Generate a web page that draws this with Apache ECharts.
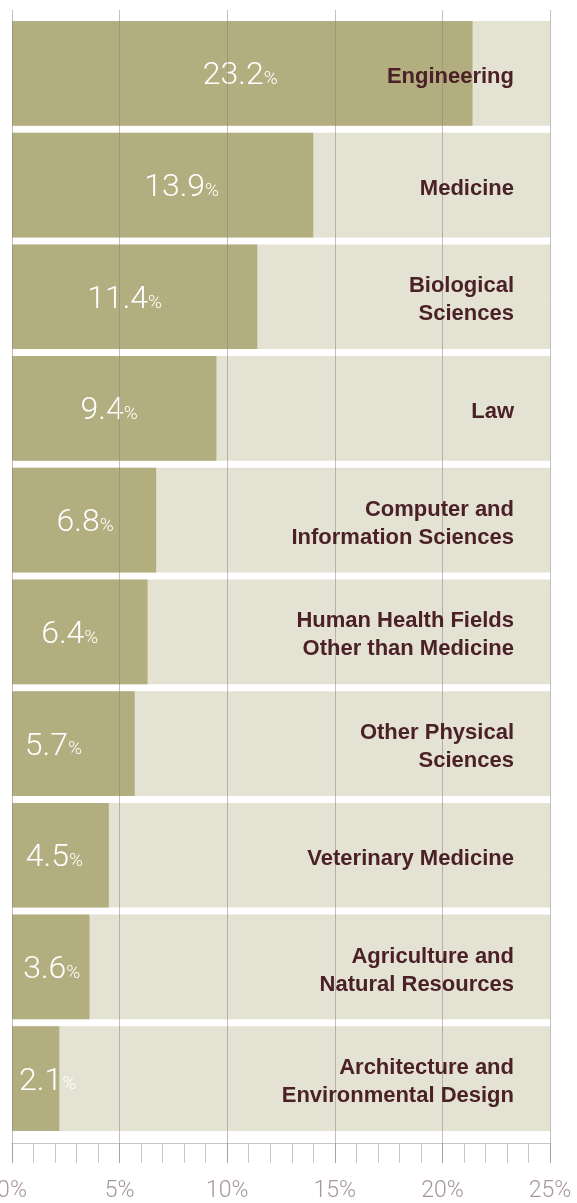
<!DOCTYPE html>
<html>
<head>
<meta charset="utf-8">
<script src="https://cdn.jsdelivr.net/npm/echarts@6/dist/echarts.min.js"></script>
<style>
  html, body { margin: 0; padding: 0; background: #fff; }
  #chart { width: 577px; height: 1203px; }
</style>
</head>
<body>
<div id="chart"></div>
<script>
// fields, top to bottom
var fields = [
    'Engineering',
    'Medicine',
    'Biological\nSciences',
    'Law',
    'Computer and\nInformation Sciences',
    'Human Health Fields\nOther than Medicine',
    'Other Physical\nSciences',
    'Veterinary Medicine',
    'Agriculture and\nNatural Resources',
    'Architecture and\nEnvironmental Design'
];
// printed shares
var shares = [23.2, 13.9, 11.4, 9.4, 6.8, 6.4, 5.7, 4.5, 3.6, 2.1];
// bar lengths as drawn (engineering bar is drawn shorter than its label)
var barLengths = [21.4, 14.0, 11.4, 9.5, 6.7, 6.3, 5.7, 4.5, 3.6, 2.2];
var axisTicks = [0, 5, 10, 15, 20, 25];

// the value labels are not exactly centred in the original, small horizontal nudges (px)
var labelNudge = [-2, 19, -10, -5, 1, -10, -20, -6, 1, 12];

var font = '"Liberation Sans", Arial, Helvetica, sans-serif';
var chart = echarts.init(document.getElementById('chart'));

var barData = barLengths.map(function (v, i) {
    return {value: v, label: {offset: [labelNudge[i], 3]}};
});

var nameStyle = {fontFamily: font, fontSize: 22, fontWeight: 'bold', lineHeight: 28, color: '#4b2127'};

var option = {
    backgroundColor: '#ffffff',
    animation: false,
    grid: [
        {left: 12, right: 27, top: 17.5, bottom: 68.5, containLabel: false, outerBoundsMode: 'none'},
        // only for the vertical lines that run over the bars
        {left: 12, right: 27, top: 10, bottom: 40, containLabel: false, outerBoundsMode: 'none'}
    ],
    xAxis: [{
        gridIndex: 0,
        type: 'value',
        min: axisTicks[0],
        max: axisTicks[axisTicks.length - 1],
        interval: 5,
        offset: 8.5,
        axisLine: {show: true, onZero: false, lineStyle: {color: '#cdc3c3', width: 1}},
        axisTick: {show: true, length: 20, lineStyle: {color: '#cdc3c3'}},
        minorTick: {show: true, splitNumber: 5, length: 20, lineStyle: {color: '#cdc3c3'}},
        splitLine: {show: false},
        axisLabel: {
            margin: 37,
            fontFamily: 'Roboto, ' + font,
            fontWeight: 300,
            fontSize: 23,
            color: '#a69797',
            formatter: '{value}%'
        }
    }, {
        gridIndex: 1,
        type: 'value',
        min: axisTicks[0],
        max: axisTicks[axisTicks.length - 1],
        interval: 5,
        z: 4,
        axisLine: {show: false},
        axisTick: {show: false},
        axisLabel: {show: false},
        splitLine: {show: true, lineStyle: {color: 'rgba(140,125,125,0.5)', width: 1}}
    }],
    yAxis: [{
        gridIndex: 0,
        type: 'category',
        inverse: true,
        data: fields,
        show: false
    }, {
        gridIndex: 0,
        type: 'category',
        inverse: true,
        position: 'right',
        data: fields,
        z: 5,
        axisLine: {show: false},
        axisTick: {show: false},
        axisLabel: {
            inside: true,
            margin: 36,
            fontFamily: font,
            fontSize: 22,
            fontWeight: 'bold',
            lineHeight: 28,
            color: '#4b2127',
            // pad every line a bit so the block sits slightly low, like the original
            formatter: function (v) {
                return v.split('\n').map(function (line) {
                    return '{f|' + line + '}';
                }).join('\n');
            },
            rich: {
                f: Object.assign({padding: [7, 0, 0, 0]}, nameStyle)
            }
        }
    }, {
        gridIndex: 1,
        type: 'value',
        show: false
    }],
    series: [{
        type: 'bar',
        xAxisIndex: 0,
        yAxisIndex: 0,
        data: barData,
        barCategoryGap: '6.3%',
        showBackground: true,
        backgroundStyle: {color: '#e4e2d3'},
        itemStyle: {color: '#b3ae7f'},
        label: {
            show: true,
            position: 'inside',
            formatter: function (p) {
                return '{n|' + shares[p.dataIndex].toFixed(1) + '}{p|%}';
            },
            rich: {
                n: {fontFamily: 'Roboto, ' + font, fontWeight: 300, fontSize: 32, color: '#ffffff'},
                p: {fontFamily: 'Roboto, ' + font, fontWeight: 300, fontSize: 19, color: '#ffffff', padding: [6, 0, 0, 0]}
            }
        }
    }]
};
chart.setOption(option);
</script>
</body>
</html>
